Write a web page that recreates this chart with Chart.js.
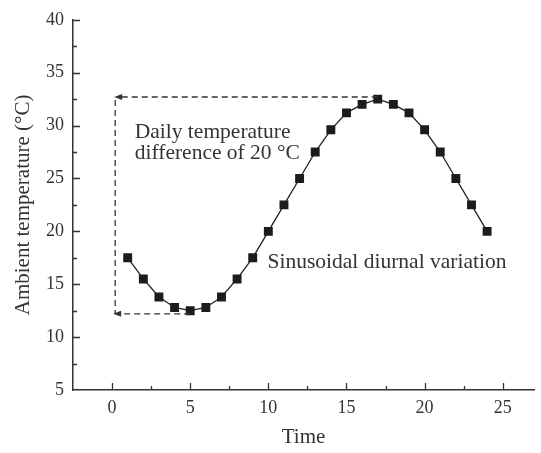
<!DOCTYPE html>
<html>
<head>
<meta charset="utf-8">
<script src="https://cdn.jsdelivr.net/npm/chart.js@4/dist/chart.umd.min.js"></script>
<style>
  html, body { margin: 0; padding: 0; background: #fff; overflow: hidden; }
</style>
</head>
<body>
<canvas id="myChart" width="541" height="453"></canvas>
<script>
// Data
const hours = [1, 2, 3, 4, 5, 6, 7, 8, 9, 10, 11, 12, 13, 14, 15, 16, 17, 18, 19, 20, 21, 22, 23, 24];
const temps = [17.5, 15.5, 13.8, 12.8, 12.5, 12.8, 13.8, 15.5, 17.5, 20.0, 22.5, 25.0,
               27.5, 29.6, 31.2, 32.0, 32.5, 32.0, 31.2, 29.6, 27.5, 25.0, 22.5, 20.0];
const xTickLabels = [0, 5, 10, 15, 20, 25];
const yTickLabels = [5, 10, 15, 20, 25, 30, 35, 40];

// annotation: dashed arrows marking the 20 °C daily difference
const diffArrowX = 0.2;
const diffTop = 32.7;
const diffBottom = 12.2;
const peakHour = 17;
const lowHour = 5;
const noteLines = ['Daily temperature', 'difference of 20 °C'];
const curveLabel = 'Sinusoidal diurnal variation';

const FONT = '"Liberation Serif", "Times New Roman", serif';
const INK = '#333';

// ticks point inward, major every 5, minor every 2.5
const inwardTicks = {
    id: 'inwardTicks',
    afterDraw(chart) {
        const { ctx, scales: { x, y } } = chart;
        ctx.save();
        ctx.strokeStyle = INK;
        ctx.lineWidth = 1.3;
        ctx.beginPath();
        x.ticks.forEach(t => {
            if (t.value % 2.5 !== 0 || t.value <= x.min) return;
            const len = xTickLabels.includes(t.value) ? 7 : 4;
            const px = Math.round(x.getPixelForValue(t.value)) + 0.5;
            ctx.moveTo(px, y.bottom);
            ctx.lineTo(px, y.bottom - len);
        });
        y.ticks.forEach(t => {
            if (t.value % 2.5 !== 0 || t.value <= y.min) return;
            const len = yTickLabels.includes(t.value) ? 7 : 4;
            const py = Math.round(y.getPixelForValue(t.value)) + 0.5;
            ctx.moveTo(x.left, py);
            ctx.lineTo(x.left + len, py);
        });
        ctx.stroke();
        ctx.restore();
    }
};

function arrowLeft(ctx, tipX, tipY) {
    ctx.beginPath();
    ctx.moveTo(tipX, tipY);
    ctx.lineTo(tipX + 8, tipY - 3);
    ctx.lineTo(tipX + 8, tipY + 3);
    ctx.closePath();
    ctx.fill();
}

const annotations = {
    id: 'annotations',
    afterDatasetsDraw(chart) {
        const { ctx, scales: { x, y } } = chart;
        const ax = x.getPixelForValue(diffArrowX);
        const yTop = y.getPixelForValue(diffTop);
        const yBot = y.getPixelForValue(diffBottom);
        ctx.save();
        ctx.strokeStyle = INK;
        ctx.fillStyle = INK;
        ctx.lineWidth = 1.3;
        ctx.setLineDash([6, 4]);
        ctx.beginPath();
        ctx.moveTo(x.getPixelForValue(peakHour), yTop);
        ctx.lineTo(ax + 6, yTop);
        ctx.moveTo(ax, yTop + 3);
        ctx.lineTo(ax, yBot);
        ctx.moveTo(x.getPixelForValue(lowHour), yBot);
        ctx.lineTo(ax + 6, yBot);
        ctx.stroke();
        ctx.setLineDash([]);
        arrowLeft(ctx, ax - 1, yTop);
        arrowLeft(ctx, ax - 2, yBot);

        ctx.font = '21.5px ' + FONT;
        ctx.textAlign = 'left';
        ctx.textBaseline = 'alphabetic';
        ctx.fillText(noteLines[0], x.getPixelForValue(1.45), y.getPixelForValue(28.86));
        ctx.fillText(noteLines[1], x.getPixelForValue(1.45), y.getPixelForValue(26.83));
        ctx.fillText(curveLabel, x.getPixelForValue(9.95), y.getPixelForValue(16.5));
        ctx.restore();
    }
};

const ctx = document.getElementById('myChart').getContext('2d');
const myChart = new Chart(ctx, {
    type: 'line',
    data: {
        datasets: [{
            label: 'Ambient temperature',
            data: hours.map((h, i) => ({ x: h, y: temps[i] })),
            borderColor: '#222',
            borderWidth: 1.3,
            pointStyle: 'rect',
            pointRadius: 6.3,
            pointBackgroundColor: '#1c1c1c',
            pointBorderWidth: 0,
            tension: 0
        }]
    },
    options: {
        responsive: false,
        animation: false,
        layout: { padding: { top: 16, right: 0, bottom: 0, left: 0 } },
        plugins: {
            legend: { display: false },
            tooltip: { enabled: false }
        },
        scales: {
            x: {
                type: 'linear',
                min: -2.5,
                max: 27,
                grid: { display: false, drawTicks: false },
                border: { display: true, color: INK, width: 1.5 },
                ticks: {
                    stepSize: 2.5,
                    autoSkip: false,
                    maxRotation: 0,
                    padding: 7,
                    color: INK,
                    font: { family: FONT, size: 18 },
                    callback: v => xTickLabels.includes(v) ? String(v) : ''
                },
                title: {
                    display: true,
                    text: 'Time',
                    color: INK,
                    font: { family: FONT, size: 21 },
                    padding: { top: 0, bottom: 3 }
                },
                afterFit: s => { s.height = 63; }
            },
            y: {
                min: 5,
                max: 40,
                grid: { display: false, drawTicks: false },
                border: { display: true, color: INK, width: 1.5 },
                ticks: {
                    stepSize: 2.5,
                    autoSkip: false,
                    padding: 9,
                    color: INK,
                    font: { family: FONT, size: 18 },
                    callback: v => yTickLabels.includes(v) ? String(v) : ''
                },
                title: {
                    display: true,
                    text: 'Ambient temperature (°C)',
                    color: INK,
                    font: { family: FONT, size: 21 },
                    padding: { top: 11, bottom: 0 }
                },
                afterFit: s => { s.width = 73; }
            }
        }
    },
    plugins: [inwardTicks, annotations]
});
</script>
</body>
</html>
